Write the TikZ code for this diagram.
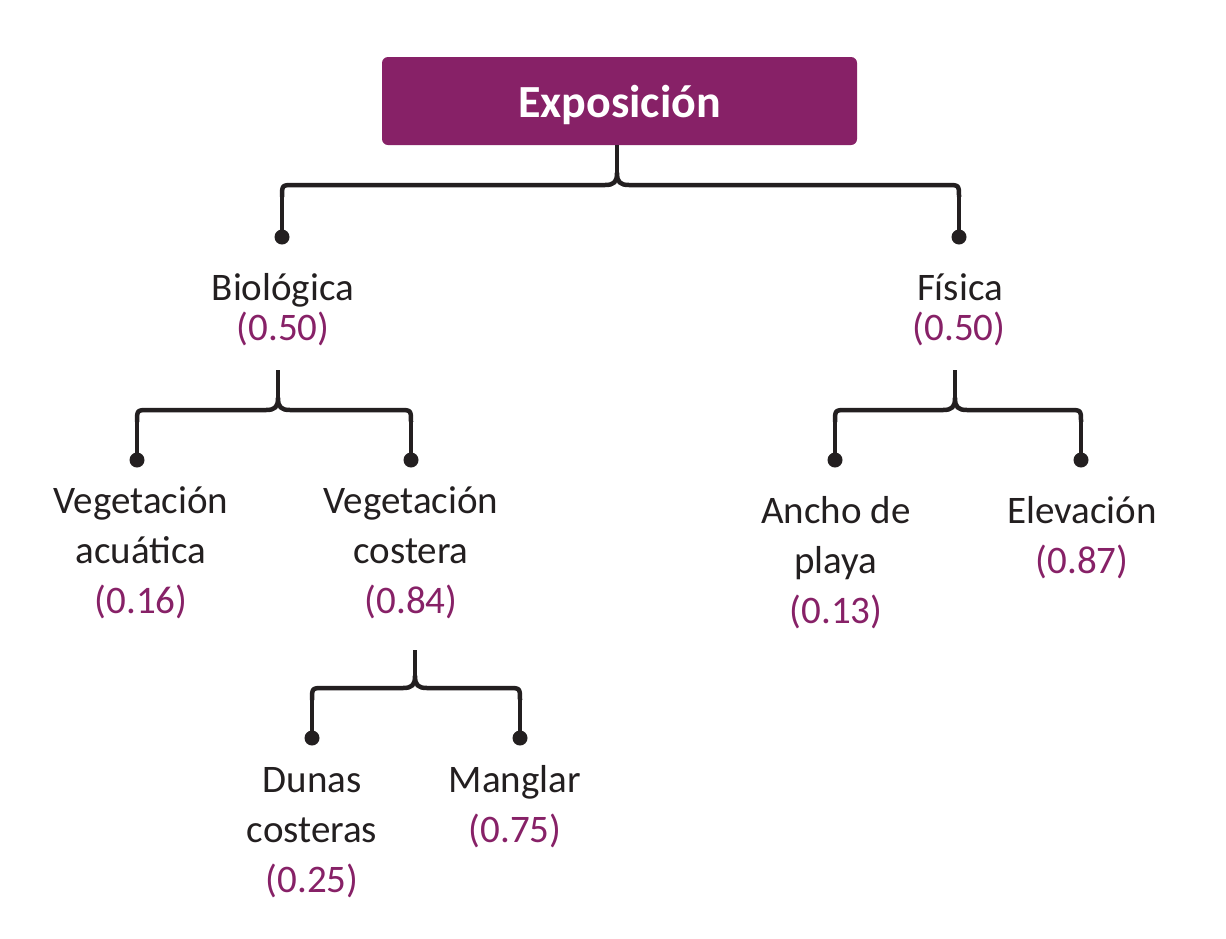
\documentclass[tikz,border=0pt]{standalone}
\usepackage{fontspec}
\setmainfont{Carlito}
\definecolor{purp}{RGB}{135,33,103}
\definecolor{ink}{RGB}{35,31,32}
\tikzset{
  conn/.style={draw=ink, line width=4.5pt, line join=round},
  dotc/.style={fill=ink, draw=none, circle, minimum size=15pt, inner sep=0pt},
  lbl/.style={anchor=base, inner sep=0pt, text=ink, font=\fontsize{39}{47}\selectfont},
  wt/.style={anchor=base, inner sep=0pt, text=purp, font=\fontsize{39}{47}\selectfont},
  title/.style={fill=purp, rounded corners=6pt, minimum width=475pt, minimum height=88pt, inner sep=0pt}
}
% #1 stem x, #2 horizontal y, #3 left x, #4 right x
\newcommand\bracepath[4]{%
  \draw[conn] (#3,#2+12) .. controls (#3,#2) .. (#3+12,#2) -- (#1-12,#2)
     .. controls (#1-3,#2) and (#1,#2-3) .. (#1,#2-12)
     .. controls (#1,#2-3) and (#1+3,#2) .. (#1+12,#2) -- (#4-12,#2)
     .. controls (#4,#2) .. (#4,#2+12);}
\begin{document}
\begin{tikzpicture}[x=1pt,y=-1pt]
\useasboundingbox[fill=white] (0,0) rectangle (1226,938);
% title
\node[title] (top) at (619.5,101) {};
\node[anchor=base, inner sep=0pt, text=white, font=\fontsize{46}{50}\selectfont\bfseries] (toptxt) at (619.5,117) {Exposición};
% dots
\node[dotc] (d1) at (282,237) {};
\node[dotc] (d2) at (959,237) {};
\node[dotc] (d3) at (137,460) {};
\node[dotc] (d4) at (411,460) {};
\node[dotc] (d5) at (835,460) {};
\node[dotc] (d6) at (1081,460) {};
\node[dotc] (d7) at (312,738) {};
\node[dotc] (d8) at (520,738) {};
% labels
\node[lbl] (bio) at (283,300) {Biológica};
\node[wt] (biow) at (283,340) {(0.50)};
\node[lbl] (fis) at (960,300) {Física};
\node[wt] (fisw) at (959,340) {(0.50)};
\node[lbl] (va) at (141,513) {Vegetación};
\node[lbl] (va2) at (141,563) {acuática};
\node[wt] (vaw) at (141,613) {(0.16)};
\node[lbl] (vc) at (411,513) {Vegetación};
\node[lbl] (vc2) at (411,563) {costera};
\node[wt] (vcw) at (411,613) {(0.84)};
\node[lbl] (an) at (836,523) {Ancho de};
\node[lbl] (an2) at (836,573) {playa};
\node[wt] (anw) at (836,623) {(0.13)};
\node[lbl] (el) at (1082,523) {Elevación};
\node[wt] (elw) at (1082,573) {(0.87)};
\node[lbl] (du) at (312,792) {Dunas};
\node[lbl] (du2) at (312,842) {costeras};
\node[wt] (duw) at (312,892) {(0.25)};
\node[lbl] (ma) at (515,792) {Manglar};
\node[wt] (maw) at (515,842) {(0.75)};
% stem tops
\coordinate (s1) at (617,145);
\coordinate (s2) at (278,370);
\coordinate (s3) at (955,370);
\coordinate (s4) at (415,650);
% stems
\draw[conn] (s1) -- (617,173);
\draw[conn] (s2) -- (278,398);
\draw[conn] (s3) -- (955,398);
\draw[conn] (s4) -- (415,676);
% legs to dots
\draw[conn] (282,197) -- (d1.center);
\draw[conn] (959,197) -- (d2.center);
\draw[conn] (137,422) -- (d3.center);
\draw[conn] (411,422) -- (d4.center);
\draw[conn] (835,422) -- (d5.center);
\draw[conn] (1081,422) -- (d6.center);
\draw[conn] (312,700) -- (d7.center);
\draw[conn] (520,700) -- (d8.center);
% braces
\bracepath{617}{185}{282}{959}
\bracepath{278}{410}{137}{411}
\bracepath{955}{410}{835}{1081}
\bracepath{415}{688}{312}{520}
\end{tikzpicture}
\end{document}
